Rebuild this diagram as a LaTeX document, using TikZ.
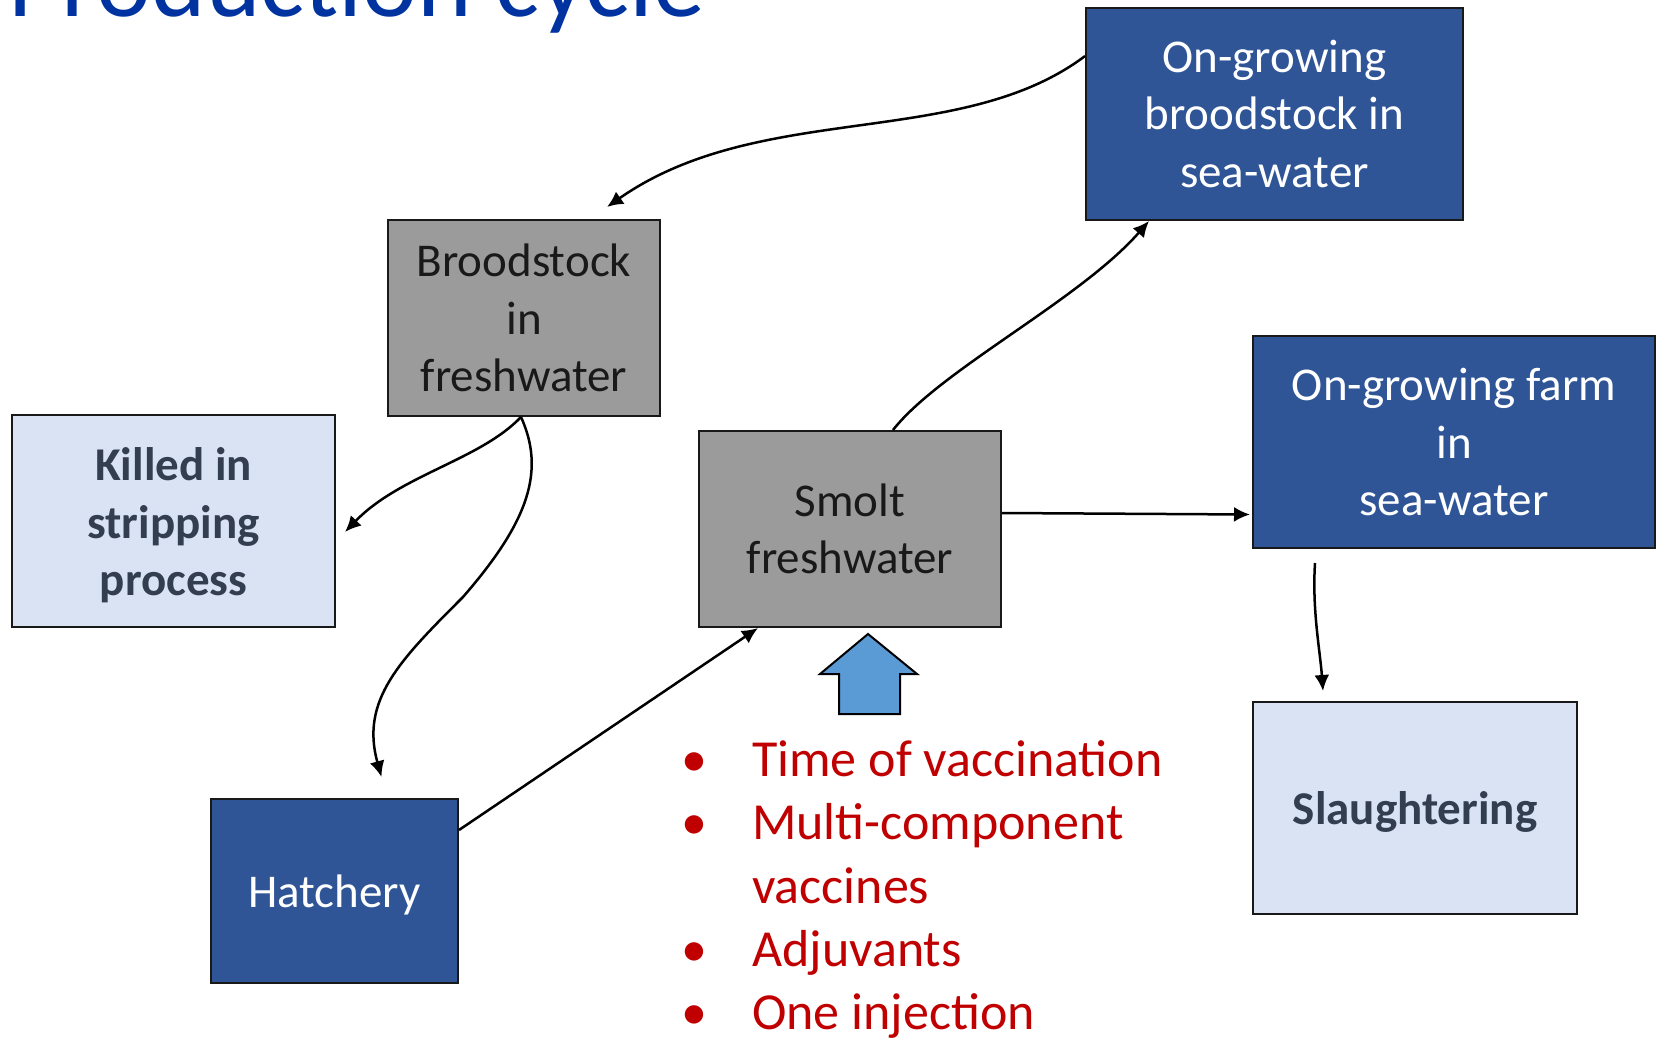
\documentclass[tikz,border=0pt]{standalone}
\usepackage{fontspec}
\setmainfont{Carlito}
\usepackage{tikz}
\usepackage{xcolor}
\usetikzlibrary{arrows.meta, positioning}
\definecolor{SeaBlue}{HTML}{2F5597}
\definecolor{FreshGrey}{HTML}{9B9B9B}
\definecolor{PaleBlue}{HTML}{DAE3F3}
\definecolor{SlateText}{HTML}{333F50}
\definecolor{VaccRed}{HTML}{C00000}
\definecolor{ArrowBlue}{HTML}{5B9BD5}
\definecolor{TitleBlue}{HTML}{0033A0}

\begin{document}
\begin{tikzpicture}[x=1pt, y=-1pt,
    stage/.style={draw=black!90, line width=2pt, inner sep=0pt, align=center, font=\fontsize{47}{57.5}\selectfont},
    seabox/.style={stage, fill=SeaBlue, text=white},
    freshbox/.style={stage, fill=FreshGrey, text=black!90},
    endbox/.style={stage, fill=PaleBlue, text=SlateText, font=\fontsize{47}{57.5}\selectfont\bfseries},
    flow/.style={-{Latex[length=16pt, width=15pt]}, line width=2.5pt},
    point/.style={anchor=base west, inner sep=0pt, text=VaccRed, font=\fontsize{52}{63.5}\selectfont}]
    % Frame of the slide
    \clip (0,0) rectangle (1656,1038);

    % Title, cut by the top edge
    \node[anchor=base west, inner sep=0pt, text=TitleBlue, font=\fontsize{104}{120}\selectfont] (title) at (8,17) {Production cycle};

    % Stages of the cycle
    \node[seabox, minimum width=377pt, minimum height=212pt] (ogbrood) at (1274.5,114) {On-growing\\broodstock in\\sea-water};
    \node[freshbox, minimum width=272pt, minimum height=196pt] (brood) at (524,318) {Broodstock\\in\\freshwater};
    \node[endbox, text height=157pt, minimum width=323pt, minimum height=212pt] (killed) at (173.5,521) {Killed in\\stripping\\process};
    \node[freshbox, minimum width=302pt, minimum height=196pt] (smolt) at (850,529) {Smolt\\freshwater};
    \node[seabox, minimum width=402pt, minimum height=212pt] (ogfarm) at (1454,442) {On-growing farm\\in\\sea-water};
    \node[endbox, text height=41pt, minimum width=324pt, minimum height=212pt] (slaughter) at (1415,808) {Slaughtering};
    \node[seabox, text height=41pt, minimum width=247pt, minimum height=184pt] (hatch) at (334.5,891) {Hatchery};

    % Flow between stages
    \draw[flow] (ogbrood.163) .. controls (960,150) and (760,100) .. ([xshift=83pt,yshift=12pt]brood.north);
    \draw[flow] ([xshift=-3pt]brood.south) .. controls (480,460) and (400,475) .. ([xshift=9pt,yshift=-11pt]killed.east);
    \draw[flow] ([xshift=-3pt]brood.south) .. controls (545,470) and (530,520) .. (463,597)
        .. controls (400,660) and (360,700) .. ([xshift=47pt,yshift=21pt]hatch.north);
    \draw[flow] ([yshift=61pt]hatch.east) -- ([xshift=-92pt]smolt.south);
    \draw[flow] ([xshift=43pt]smolt.north) .. controls (940,370) and (1080,300) .. ([xshift=-125.5pt]ogbrood.south);
    \draw[flow] ([yshift=16pt]smolt.east) -- ([xshift=-2pt,yshift=-72.5pt]ogfarm.west);
    \draw[flow] ([xshift=-139pt,yshift=-14pt]ogfarm.south) .. controls (1312,610) and (1320,650) .. ([xshift=-92pt,yshift=10pt]slaughter.north);

    % Block arrow pointing at the smolt stage
    \draw[line width=2pt, fill=ArrowBlue] (868,634) -- (917,674) -- (900,674) -- (900,714) -- (839,714) -- (839,674) -- (820,674) -- cycle;

    % Vaccine points
    \node[point] (b1) at (681,776) {\textbullet};
    \node[point] (t1) at (752,776) {Time of vaccination};
    \node[point] (b2) at (681,839) {\textbullet};
    \node[point] (t2) at (752,839) {Multi-component};
    \node[point] (t2b) at (752,903) {vaccines};
    \node[point] (b3) at (681,966) {\textbullet};
    \node[point] (t3) at (752,966) {Adjuvants};
    \node[point] (b4) at (681,1029) {\textbullet};
    \node[point] (t4) at (752,1029) {One injection};
\end{tikzpicture}
\end{document}
